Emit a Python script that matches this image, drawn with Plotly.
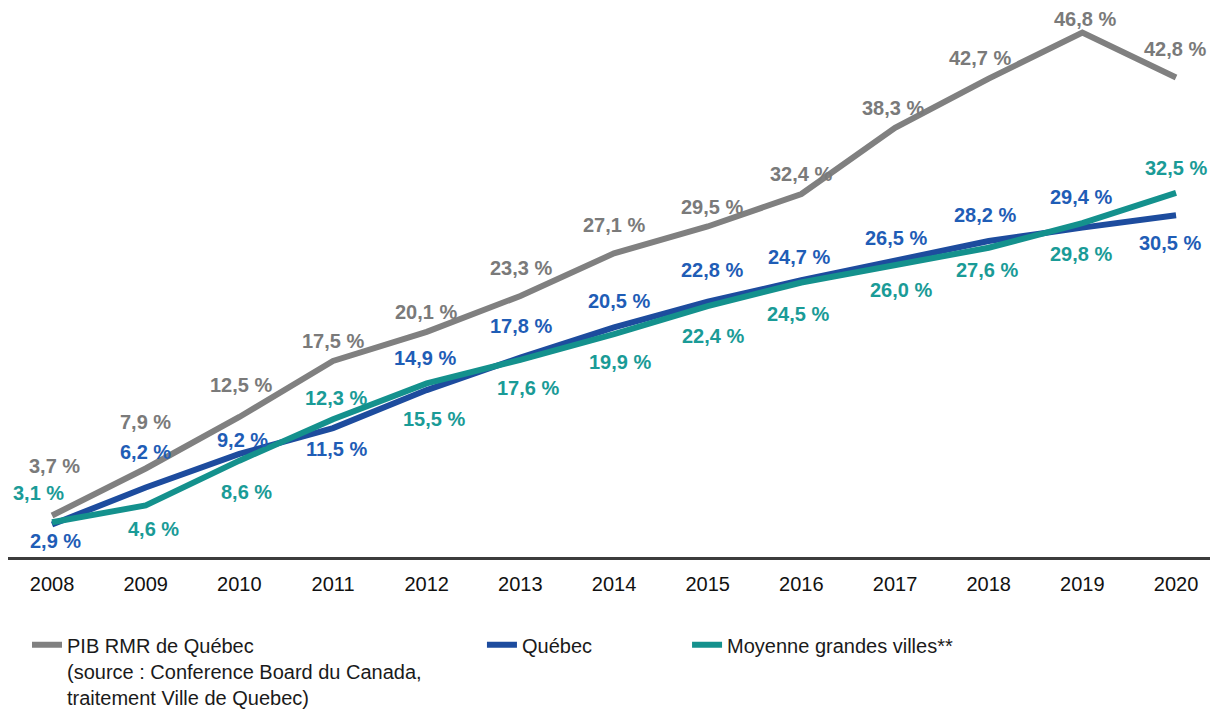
import plotly.graph_objects as go

years = ["2008", "2009", "2010", "2011", "2012", "2013", "2014", "2015",
         "2016", "2017", "2018", "2019", "2020"]
pib = [3.7, 7.9, 12.5, 17.5, 20.1, 23.3, 27.1, 29.5, 32.4, 38.3, 42.7, 46.8, 42.8]
quebec = [2.9, 6.2, 9.2, 11.5, 14.9, 17.8, 20.5, 22.8, 24.7, 26.5, 28.2, 29.4, 30.5]
moyenne = [3.1, 4.6, 8.6, 12.3, 15.5, 17.6, 19.9, 22.4, 24.5, 26.0, 27.6, 29.8, 32.5]

names = ["PIB RMR de Québec<br>(source : Conference Board du Canada,<br>traitement Ville de Quebec)",
         "Québec", "Moyenne grandes villes**"]

# label offsets in pixels (dx, dy with dy positive = up)
pib_off = [(2, 50), (0, 46), (2, 32), (0, 20), (-1, 20), (1, 28), (0, 28), (4, 19),
           (0, 20), (-2, 20), (-9, 21), (3, 14), (-1, 28)]
que_off = [(3, -16), (0, 36), (3, 14), (3, -21), (-2, 32), (1, 32), (5, 26), (4, 32),
           (-2, 23), (1, 22), (-4, 26), (-1, 31), (-6, -28)]
moy_off = [(-14, 29), (8, -24), (7, -31), (3, 21), (7, -36), (8, -28), (6, -28), (5, -30),
           (-3, -31), (6, -24), (-2, -22), (-1, -31), (0, 25)]

line_colors = ["#808080", "#1d4c9e", "#14918d"]
label_colors = ["#7a7a7a", "#1f5db6", "#1a9b97"]

fig = go.Figure()
series = [pib, quebec, moyenne]
legends = ["legend", "legend2", "legend3"]
for s, nm, lc, lg in zip(series, names, line_colors, legends):
    fig.add_trace(go.Scatter(x=years, y=s, mode="lines", name=nm,
                             line=dict(color=lc, width=6), legend=lg))

annotations = []
for s, offs, col in zip(series, [pib_off, que_off, moy_off], label_colors):
    for i, (v, (dx, dy)) in enumerate(zip(s, offs)):
        annotations.append(dict(x=i, y=v, xref="x", yref="y",
                                text=("%.1f %%" % v).replace(".", ","),
                                showarrow=False, xshift=dx, yshift=dy,
                                font=dict(family="Liberation Sans, Arial", size=20,
                                          color=col, weight="bold")))

legfont = dict(family="Liberation Sans, Arial", size=20, color="#1a1a1a")
fig.update_layout(
    width=1210, height=702,
    margin=dict(l=0, r=0, t=0, b=153, autoexpand=False),
    paper_bgcolor="white", plot_bgcolor="white",
    annotations=annotations,
    xaxis=dict(type="category", range=[-0.47, 12.448], showgrid=False,
               showline=True, linecolor="#3c3c3c", linewidth=3,
               ticks="outside", ticklen=7, tickcolor="rgba(0,0,0,0)",
               tickfont=dict(family="Liberation Sans, Arial", size=20, color="#111111"),
               zeroline=False, automargin=False),
    yaxis=dict(range=[0, 49.0], visible=False, showgrid=False, zeroline=False),
    legend=dict(x=0.0157, y=-0.1245, xanchor="left", yanchor="top", font=legfont,
                valign="top", bgcolor="rgba(0,0,0,0)"),
    legend2=dict(x=0.3917, y=-0.1245, xanchor="left", yanchor="top", font=legfont,
                 valign="top", bgcolor="rgba(0,0,0,0)"),
    legend3=dict(x=0.5612, y=-0.1245, xanchor="left", yanchor="top", font=legfont,
                 valign="top", bgcolor="rgba(0,0,0,0)"),
    showlegend=True,
)

fig.write_html("out.html")
